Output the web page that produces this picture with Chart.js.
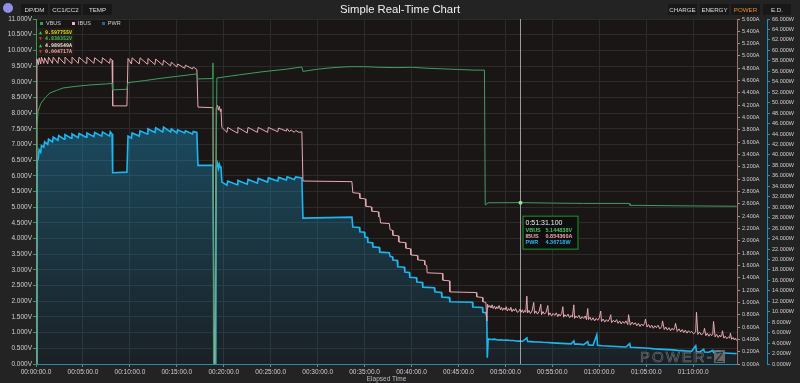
<!DOCTYPE html>
<html><head><meta charset="utf-8">
<script src="https://cdn.jsdelivr.net/npm/chart.js@4/dist/chart.umd.min.js"></script>
<style>
html,body{margin:0;padding:0;background:#232323;width:800px;height:383px;overflow:hidden;font-family:"Liberation Sans",Arial,sans-serif;}
#wrap{position:relative;width:800px;height:383px;}
#c{position:absolute;left:0;top:0;}
.btn{position:absolute;top:4px;height:11px;line-height:11px;font-size:6.2px;color:#dcdcdc;background:#181818;text-align:center;}
#title{position:absolute;top:3px;left:0;width:800px;text-align:center;font-size:11.3px;color:#f0f0f0;}
#icon{position:absolute;left:3px;top:3px;width:10px;height:10px;border-radius:50%;background:#8f8fe8;}
#legend{position:absolute;left:40px;top:20px;font-size:5.5px;color:#cfcfcf;white-space:nowrap;}
#legend span.sq{display:inline-block;width:3px;height:3px;margin-right:3px;vertical-align:middle;}
#legend span.it{margin-right:11px;}
#stats{position:absolute;left:37px;top:28px;width:37px;height:27px;background:rgba(42,36,24,0.55);font:bold 5px "DejaVu Sans Mono",monospace;line-height:6.4px;padding-top:1px;}
#stats div{white-space:nowrap;padding-left:2px;}
.up{color:#30d050;} .dn{color:#e03030;}
#wm{position:absolute;left:640px;top:348px;font-size:15px;letter-spacing:2px;color:transparent;-webkit-text-stroke:0.6px #8c8c8c;opacity:0.8;white-space:nowrap;}
#wm b{display:inline-block;background:#7a7a7a;color:#2a2a2a;-webkit-text-stroke:0;font-weight:normal;padding:0 1px;line-height:13px;letter-spacing:0;}
</style></head>
<body><div id="wrap">
<canvas id="c" width="800" height="383"></canvas>
<div id="icon"></div>
<div class="btn" style="left:21px;width:27px">DP/DM</div>
<div class="btn" style="left:50px;width:31px">CC1/CC2</div>
<div class="btn" style="left:83px;width:29px">TEMP</div>
<div id="title">Simple Real-Time Chart</div>
<div class="btn" style="left:668px;width:29px">CHARGE</div>
<div class="btn" style="left:700px;width:29px">ENERGY</div>
<div class="btn" style="left:731px;width:29px;color:#e88a2a">POWER</div>
<div class="btn" style="left:763px;width:28px">E.D.</div>
<div id="legend"></div>
<div id="stats"></div>
<div id="wm">POWER-<b>Z</b></div>
</div>
<script>
// ---- data (time in seconds) ----
const seriesNames = ['VBUS','IBUS','PWR'];
const statArrows = ['▲','▼','▲','▼'];
const statTexts = ['9.597755V','4.838352V','4.989549A','0.004717A'];
const xTickValues = [0,300,600,900,1200,1500,1800,2100,2400,2700,3000,3300,3600,3900,4200];

const vbusTime = [0,6,13,30,60,89,130,172,250,350,450,486,490,581,588,700,800,900,1028,1033,1125,1131,1134,1146,1150,1156,1300,1450,1600,1699,1706,1720,1800,1900,2000,2100,2200,2300,2400,2500,2600,2700,2800,2866,2871,2890,3091,3300,3500,3790,3796,4000,4200,4478];
const vbusVolts = [0,7.55,8.05,8.3,8.5,8.64,8.72,8.8,8.85,8.9,8.93,8.95,8.74,8.76,8.97,9.04,9.11,9.17,9.25,9.09,9.10,9.60,0,0,5.0,9.12,9.22,9.32,9.40,9.47,9.33,9.34,9.40,9.45,9.48,9.48,9.46,9.45,9.46,9.43,9.41,9.39,9.37,9.37,5.07,5.14,5.145,5.13,5.12,5.12,5.06,5.05,5.04,5.03];

const ibusTime = [0,6,15,20,30,35,50,55,75,80,105,110,140,145,180,185,225,230,270,275,320,325,370,375,420,425,470,475,486,490,581,588,610,614,660,665,710,715,760,765,810,815,860,865,900,905,950,955,1000,1005,1028,1035,1131,1137,1146,1152,1160,1166,1172,1178,1182,1188,1220,1225,1285,1290,1350,1355,1415,1420,1480,1485,1545,1550,1600,1605,1620,1630,1650,1660,1680,1699,
1706,2019,2025,2067,2070,2105,2108,2143,2146,2188,2191,2198,2202,2258,2263,2278,2281,2316,2319,2361,2364,2393,2396,2437,2440,2482,2485,2497,2500,2597,2600,2642,2645,2814,2817,2853,2856,2875,2881,
2886,2893,2900,2908,2915,2922,2930,2938,2945,2952,2960,2968,2975,2982,2990,2998,3005,3012,3020,3028,3035,3042,3050,3058,3065,3075,3085,3093,3100,3108,3115,3122,3130,3137,3142,3150,3160,3170,3181,3186,3195,3205,3215,3226,3231,3240,3250,3260,3271,3276,3285,3295,3305,3315,3325,3335,3342,3350,3360,3367,3372,3380,3390,3400,3410,3420,3428,3437,3442,3450,3460,3470,3480,3490,3500,3510,3518,3526,3531,3540,3550,3560,3570,3580,3590,3600,3609,3614,3625,3635,3645,3655,3665,3673,3678,3690,3700,3710,3720,3730,3740,3750,3760,3770,3782,3787,3798,3810,3820,3830,3840,3850,3860,3870,3880,3890,3895,3905,3915,3925,3935,3945,3955,3965,3975,3987,3999,4004,4015,4025,4035,4045,4055,4065,4074,4082,4087,4098,4110,4120,4130,4140,4150,4160,4170,4180,4190,4203,4216,4221,4230,4240,4253,4267,4272,4281,4290,4300,4310,4318,4325,4330,4340,4350,4360,4370,4376,4382,4387,4396,4405,4415,4425,4433,4438,4446,4455,4463,4470,4478];
const ibusAmps = [0,4.95,4.86,4.97,4.87,4.98,4.88,4.97,4.87,4.98,4.88,4.98,4.88,4.98,4.88,4.98,4.88,4.98,4.88,4.98,4.88,4.98,4.88,4.97,4.88,4.97,4.88,4.96,4.93,4.19,4.19,4.96,4.87,4.97,4.87,4.97,4.87,4.96,4.86,4.95,4.85,4.93,4.84,4.90,4.82,4.87,4.80,4.85,4.79,4.82,4.78,4.17,4.16,0,0,4.16,4.20,4.12,4.18,4.10,4.14,3.84,3.76,3.84,3.75,3.84,3.75,3.84,3.76,3.84,3.76,3.84,3.77,3.83,3.78,3.82,3.77,3.80,3.76,3.79,3.76,3.77,
2.97,2.96,2.78,2.77,2.69,2.68,2.56,2.55,2.48,2.47,2.39,2.38,2.29,2.28,2.18,2.17,2.09,2.08,1.98,1.97,1.88,1.87,1.77,1.76,1.69,1.68,1.61,1.60,1.48,1.47,1.36,1.35,1.17,1.16,1.09,1.08,1.01,1.00,0.70,
0.97,0.92,0.95,0.91,0.96,0.90,0.94,0.89,0.93,0.90,0.95,0.88,0.92,0.87,0.91,0.88,0.93,0.86,0.90,0.87,0.92,0.85,0.89,0.86,0.90,0.84,0.85,0.89,0.84,0.88,0.83,0.87,0.84,1.10,0.83,0.87,0.82,0.86,1.00,0.82,0.86,0.81,0.85,0.97,0.80,0.85,0.81,0.84,0.95,0.79,0.83,0.78,0.82,0.79,0.83,0.77,0.81,0.78,0.82,0.93,0.76,0.80,0.77,0.81,0.75,0.79,0.76,0.96,0.74,0.78,0.75,0.79,0.73,0.77,0.74,0.78,0.72,0.90,0.72,0.76,0.71,0.75,0.70,0.74,0.71,0.75,0.86,0.69,0.73,0.68,0.72,0.69,0.73,0.80,0.67,0.71,0.68,0.72,0.66,0.70,0.65,0.69,0.66,0.70,0.64,0.80,0.63,0.68,0.64,0.67,0.62,0.66,0.61,0.65,0.62,0.66,0.73,0.60,0.64,0.59,0.63,0.58,0.62,0.59,0.63,0.57,0.61,0.70,0.56,0.60,0.55,0.59,0.54,0.58,0.55,0.59,0.66,0.53,0.57,0.52,0.56,0.51,0.55,0.50,0.54,0.51,0.53,0.49,0.52,0.84,0.48,0.52,0.47,0.51,0.58,0.46,0.50,0.45,0.49,0.46,0.48,0.69,0.44,0.48,0.43,0.47,0.44,0.46,0.54,0.42,0.45,0.41,0.44,0.42,0.50,0.40,0.43,0.39,0.42,0.38,0.40];

const pwrTime = [0,6,15,20,30,35,50,55,75,80,105,110,140,145,180,185,225,230,270,275,320,325,370,375,420,425,470,475,486,490,581,588,610,614,660,665,710,715,760,765,810,815,860,865,900,905,950,955,1000,1005,1028,1035,1131,1140,1148,1152,1160,1166,1172,1178,1182,1188,1220,1225,1285,1290,1350,1355,1415,1420,1480,1485,1545,1550,1600,1605,1650,1660,1699,
1706,2019,2025,2067,2070,2099,2102,2118,2121,2150,2153,2194,2197,2258,2263,2278,2281,2309,2312,2354,2357,2386,2389,2431,2434,2469,2472,2546,2549,2591,2594,2642,2645,2789,2792,2853,2856,2875,2881,
2884,2890,2910,2930,2950,2970,2990,3010,3030,3050,3070,3091,3110,3137,3142,3165,3190,3215,3240,3270,3300,3330,3360,3390,3420,3437,3442,3470,3500,3526,3531,3560,3584,3589,3620,3650,3680,3710,3740,3770,3794,3799,3830,3860,3890,3920,3950,3980,4010,4040,4070,4100,4130,4160,4190,4216,4221,4245,4267,4272,4300,4325,4330,4363,4368,4400,4430,4460,4478];
const pwrWatts = [0,38.5,39.5,41.0,40.5,41.8,41.5,42.5,42.0,43.0,42.5,43.4,42.8,43.7,43.0,43.9,43.2,44.0,43.3,44.1,43.4,44.2,43.5,44.3,43.6,44.4,43.6,44.4,44.0,36.6,36.7,43.6,43.2,44.2,43.6,44.6,44.0,45.0,44.3,45.2,44.4,45.3,44.4,45.0,44.2,44.8,44.2,44.6,44.0,44.5,44.3,38.0,38.0,0,0,37.6,38.4,37.4,38.2,37.6,37.8,34.8,34.2,35.0,34.3,35.1,34.4,35.3,34.6,35.5,34.8,35.6,35.0,35.7,35.2,35.8,35.3,35.8,35.6,
27.9,28.1,26.2,26.1,25.3,25.2,24.3,24.2,23.3,23.2,22.4,22.3,21.4,21.3,20.6,20.5,19.9,19.8,18.6,18.5,17.6,17.5,16.6,16.5,15.7,15.6,14.7,14.6,13.8,13.7,12.8,12.7,11.9,11.8,10.9,10.8,9.9,9.8,9.0,
1.2,4.8,4.7,4.75,4.6,4.65,4.55,4.6,4.5,4.5,4.4,4.37,4.35,5.0,4.3,4.28,4.2,4.22,4.15,4.1,4.05,4.0,3.95,3.9,3.85,4.4,3.8,3.8,3.7,4.3,3.65,3.6,5.6,3.58,3.5,3.45,3.4,3.35,3.3,3.25,3.9,3.2,3.15,3.1,3.05,3.0,2.9,2.85,2.8,2.75,2.7,2.6,2.55,2.5,2.45,3.5,2.4,2.35,2.8,2.3,2.25,2.6,2.2,2.5,2.15,2.1,2.05,2.0,2.0];

const cursorTime = 3091.1;
const cursorVbus = 5.144838;
const cursorLabel = '0:51:31.100';
const tipValues = ['5.144838V','0.854360A','4.36718W'];

const xMax = 4480;
const colors = {VBUS:'#3e9e5e', IBUS:'#e8a9b1', PWR:'#1cb6f0'};

// ---- HTML legend / stats ----
const sqCol = ['#2e9e58','#f0b0b8','#1a6a8c'];
document.getElementById('legend').innerHTML = seriesNames.map((n,i)=>`<span class="it"><span class="sq" style="background:${sqCol[i]}"></span>${n}</span>`).join('');
const statCols = ['#e8e020','#40c060','#f4dcdc','#f0a0a8'];
document.getElementById('stats').innerHTML = statTexts.map((t,i)=>`<div><span class="${statArrows[i]==='▲'?'up':'dn'}">${statArrows[i]}</span> <span style="color:${statCols[i]}">${t}</span></div>`).join('');

const xy = (ts,vs)=>ts.map((t,i)=>({x:t,y:vs[i]}));
const pad = n=>String(n).padStart(2,'0');
const fmtTime = s=>pad(Math.floor(s/3600))+':'+pad(Math.floor(s%3600/60))+':'+pad(Math.floor(s%60))+'.0';

const bgPlugin = {id:'bg', beforeDraw(c){const {ctx,chartArea:a}=c;ctx.save();ctx.fillStyle='#1a1616';ctx.fillRect(a.left,a.top,a.right-a.left,a.bottom-a.top);ctx.restore();}};
const cursorPlugin = {id:'cursor', afterDatasetsDraw(c){
  const {ctx,chartArea:a,scales}=c;
  const x=Math.round(scales.x.getPixelForValue(cursorTime))+0.5;
  const yv=scales.yV.getPixelForValue(cursorVbus);
  ctx.save();
  ctx.strokeStyle='rgba(200,200,200,0.75)';ctx.lineWidth=1;
  ctx.beginPath();ctx.moveTo(x,a.top);ctx.lineTo(x,a.bottom);ctx.stroke();
  ctx.fillStyle='#8fe0a0';ctx.beginPath();ctx.arc(x,yv,2,0,Math.PI*2);ctx.fill();
  const bx=x+2, by=yv+13, bw=56, bh=34;
  ctx.fillStyle='#0e0e0e';ctx.fillRect(bx,by,bw,bh);
  ctx.strokeStyle='#1e9a2c';ctx.lineWidth=1;ctx.strokeRect(bx+0.5,by+0.5,bw-1,bh-1);
  ctx.textBaseline='middle';
  ctx.fillStyle='#f0f0f0';ctx.font='7px "Liberation Sans"';ctx.fillText(cursorLabel,bx+3,by+7);
  const tc=['#48c468','#f0a8b0','#2ab6f2'];
  ctx.font='bold 5.5px "Liberation Sans"';
  seriesNames.forEach((n,i)=>{ctx.fillStyle=tc[i];ctx.fillText(n,bx+3,by+15+i*6);ctx.fillText(tipValues[i],bx+23,by+15+i*6);});
  ctx.restore();
}};

new Chart(document.getElementById('c'),{
  type:'line',
  data:{datasets:[
    {label:'VBUS',data:xy(vbusTime,vbusVolts),yAxisID:'yV',borderColor:colors.VBUS,borderWidth:1,pointRadius:0,fill:false},
    {label:'IBUS',data:xy(ibusTime,ibusAmps),yAxisID:'yI',borderColor:colors.IBUS,borderWidth:1,pointRadius:0,fill:false},
    {label:'PWR',data:xy(pwrTime,pwrWatts),yAxisID:'yP',borderColor:colors.PWR,borderWidth:1.6,pointRadius:0,fill:'origin',
     backgroundColor:(ctx)=>{const a=ctx.chart.chartArea;if(!a)return 'rgba(28,150,200,0.3)';const g=ctx.chart.ctx.createLinearGradient(0,a.top,0,a.bottom);g.addColorStop(0,'rgba(28,160,215,0.5)');g.addColorStop(1,'rgba(28,160,215,0.08)');return g;}}
  ]},
  options:{
    responsive:false,animation:false,parsing:false,
    layout:{padding:{top:19,left:0,right:0,bottom:0}},
    plugins:{legend:{display:false},tooltip:{enabled:false}},
    scales:{
      x:{type:'linear',min:0,max:xMax,afterFit(s){s.height=19;},
         afterBuildTicks(s){s.ticks=xTickValues.map(v=>({value:v}));},
         ticks:{autoSkip:false,maxRotation:0,color:'#d0d0d0',font:{size:6.5,family:'Liberation Sans'},padding:1,callback:v=>fmtTime(v)},
         grid:{color:'#2b2b2b',tickColor:'#808080',tickLength:3},border:{color:'#2a8cb2'},
         title:{display:true,text:'Elapsed Time',color:'#bdbdbd',font:{size:6.5,family:'Liberation Sans'},padding:0}},
      yV:{position:'left',min:0,max:11,afterFit(s){s.width=36;},
         ticks:{stepSize:0.5,autoSkip:false,color:'#d0d0d0',font:{size:6.5,family:'Liberation Sans'},padding:1,callback:v=>v.toFixed(3)+'V'},
         grid:{color:'#2b2b2b',tickColor:'#3a9a5a',tickLength:3},border:{color:'#3a9a5a'}},
      yI:{position:'right',weight:0,min:0,max:5.6,afterFit(s){s.width=30;},
         ticks:{stepSize:0.2,autoSkip:false,color:'#d0d0d0',font:{size:5.5,family:'Liberation Sans'},padding:2,callback:v=>v.toFixed(3)+'A'},
         grid:{drawOnChartArea:false,tickColor:'#b08888',tickLength:3},border:{color:'#9a7676'}},
      yP:{position:'right',weight:1,min:0,max:66,afterFit(s){s.width=33;},
         ticks:{stepSize:2,autoSkip:false,color:'#d0d0d0',font:{size:5.5,family:'Liberation Sans'},padding:2,callback:v=>v.toFixed(3)+'W'},
         grid:{drawOnChartArea:false,tickColor:'#1a92c4',tickLength:3},border:{color:'#1a92c4'}}
    }
  },
  plugins:[bgPlugin,cursorPlugin]
});
</script>
</body></html>
